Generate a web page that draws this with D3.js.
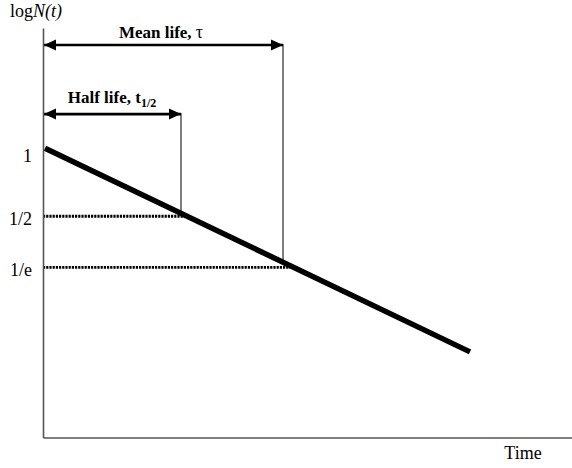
<!DOCTYPE html>
<html>
<head>
<meta charset="utf-8">
<script src="https://cdn.jsdelivr.net/npm/d3@7"></script>
<style>
  html, body { margin: 0; padding: 0; background: #fff; }
  svg { display: block; font-family: "Liberation Serif", "Times New Roman", serif; }
</style>
</head>
<body>
<svg id="chart" width="572" height="468"></svg>
<script>
// Schematic radioactive decay on a log scale (arbitrary units)
const timeDomain = [0, 5.29];
const logNDomain = [0, 4.09];

// straight decay line: log N(t) against time
const decayTimes = [0.02, 4.27];
const decayLogN = [2.89, 0.855];

// characteristic times
const halfLife = 1.38;
const meanLife = 2.40;
const halfArrowLevel = 3.23;
const meanArrowLevel = 3.92;

// labelled levels on the vertical axis
const levelLabels = ["1", "1/2", "1/e"];
const levelValues = [2.84, 2.21, 1.70];

const svg = d3.select("#chart");
const x = d3.scaleLinear().domain(timeDomain).range([43, 572]);
const y = d3.scaleLinear().domain(logNDomain).range([437.5, 28]);

const slope = (decayLogN[1] - decayLogN[0]) / (decayTimes[1] - decayTimes[0]);
const lineAt = t => decayLogN[0] + slope * (t - decayTimes[0]);
const timeAt = v => decayTimes[0] + (v - decayLogN[0]) / slope;

// arrowheads
const defs = svg.append("defs");
["start", "end"].forEach(k => {
  defs.append("marker")
    .attr("id", "arrow-" + k)
    .attr("markerUnits", "userSpaceOnUse")
    .attr("viewBox", "0 0 12 12")
    .attr("refX", k === "end" ? 12 : 0)
    .attr("refY", 6)
    .attr("markerWidth", 12)
    .attr("markerHeight", 12)
    .attr("orient", "auto")
    .append("path")
    .attr("d", k === "end" ? "M0,0.5 L12,6 L0,11.5 Z" : "M12,0.5 L0,6 L12,11.5 Z")
    .attr("fill", "#000");
});

// dotted guides from the axis to the decay line
const dottedEnds = [null, timeAt(levelValues[1]), timeAt(levelValues[2])];
svg.append("g").selectAll("line")
  .data(levelValues.slice(1).map((v, i) => ({ v, t: dottedEnds[i + 1] })))
  .join("line")
  .attr("x1", x(0)).attr("x2", d => x(d.t))
  .attr("y1", d => y(d.v)).attr("y2", d => y(d.v))
  .attr("stroke", "#000")
  .attr("stroke-width", 2.8)
  .attr("stroke-dasharray", "2.2,1");

// vertical markers at the half life and mean life
const spans = [
  { t: halfLife, level: halfArrowLevel },
  { t: meanLife, level: meanArrowLevel }
];
svg.append("g").selectAll("line")
  .data(spans)
  .join("line")
  .attr("x1", d => x(d.t)).attr("x2", d => x(d.t))
  .attr("y1", d => y(d.level) - 1).attr("y2", d => y(lineAt(d.t)))
  .attr("stroke", "#000")
  .attr("stroke-width", 1);

// double arrows spanning the characteristic times
svg.append("g").selectAll("line")
  .data(spans)
  .join("line")
  .attr("x1", x(0) + 1).attr("x2", d => x(d.t))
  .attr("y1", d => y(d.level)).attr("y2", d => y(d.level))
  .attr("stroke", "#000")
  .attr("stroke-width", 2.6)
  .attr("marker-start", "url(#arrow-start)")
  .attr("marker-end", "url(#arrow-end)");

// arrow captions
const meanLabel = svg.append("text")
  .attr("x", (x(0) + x(meanLife)) / 2 - 2)
  .attr("y", y(meanArrowLevel) - 7)
  .attr("text-anchor", "middle")
  .attr("font-size", 17)
  .attr("font-weight", "bold");
meanLabel.append("tspan").text("Mean life, ");
meanLabel.append("tspan").attr("font-weight", "normal").attr("font-size", 18).text("τ");

const halfLabel = svg.append("text")
  .attr("x", (x(0) + x(halfLife)) / 2)
  .attr("y", y(halfArrowLevel) - 11)
  .attr("text-anchor", "middle")
  .attr("font-size", 17)
  .attr("font-weight", "bold");
halfLabel.append("tspan").text("Half life, t");
halfLabel.append("tspan").attr("font-size", 12).attr("dy", 4).text("1/2");

// decay line
svg.append("path")
  .datum(decayTimes.map((t, i) => ({ t, v: decayLogN[i] })))
  .attr("d", d3.line().x(d => x(d.t)).y(d => y(d.v)))
  .attr("fill", "none")
  .attr("stroke", "#000")
  .attr("stroke-width", 5.5);

// axes
const yAxis = svg.append("g")
  .attr("transform", `translate(${x(0)},0)`)
  .call(d3.axisLeft(y)
    .tickValues(levelValues)
    .tickFormat((d, i) => levelLabels[i])
    .tickSize(0)
    .tickSizeOuter(0)
    .tickPadding(11));
yAxis.selectAll("text")
  .attr("font-family", "Liberation Serif, Times New Roman, serif")
  .attr("font-size", 18)
  .attr("fill", "#000")
  .attr("dy", "0.45em");

const xAxis = svg.append("g")
  .attr("transform", `translate(0,${y(0)})`)
  .call(d3.axisBottom(x).tickValues([]).tickSizeOuter(0));

svg.selectAll(".domain")
  .attr("stroke", "#555")
  .attr("stroke-width", 1.6);

// axis titles
const yTitle = svg.append("text")
  .attr("x", 10).attr("y", 17)
  .attr("font-size", 18);
yTitle.append("tspan").text("log");
yTitle.append("tspan").attr("font-style", "italic").text("N(t)");

svg.append("text")
  .attr("x", 523).attr("y", 459)
  .attr("text-anchor", "middle")
  .attr("font-size", 18)
  .text("Time");
</script>
</body>
</html>
